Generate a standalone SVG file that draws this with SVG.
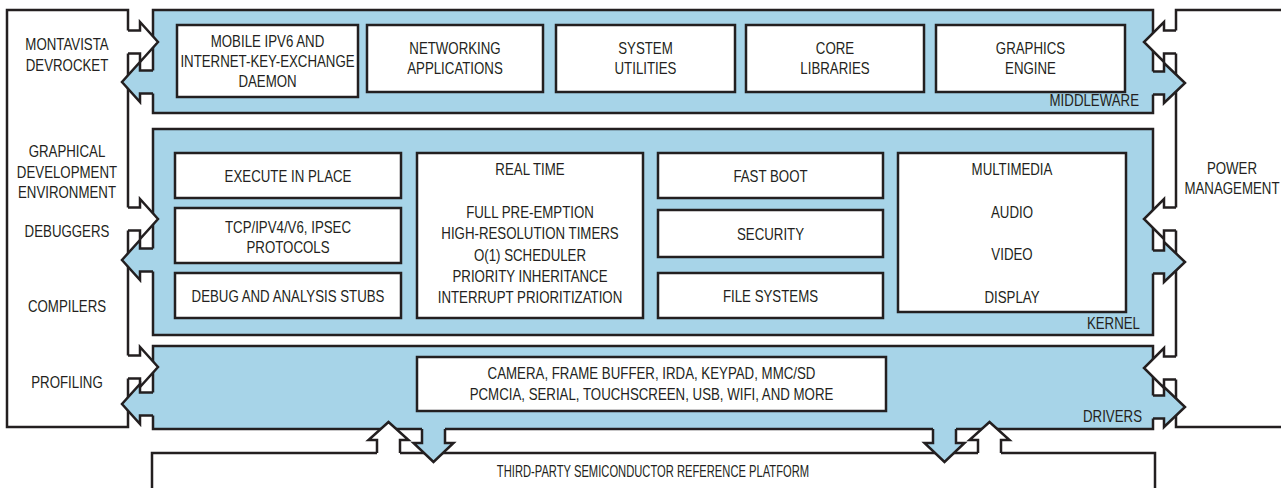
<svg xmlns="http://www.w3.org/2000/svg" width="1281" height="488" viewBox="0 0 1281 488">
  <style>
    .box { fill: #ffffff; stroke: #231f20; stroke-width: 2.5; }
    .panel { fill: #a7d4e8; stroke: #231f20; stroke-width: 2.5; }
    .fw { fill: #ffffff; stroke: none; }
    .fb { fill: #a7d4e8; stroke: none; }
    .ol { fill: none; stroke: #231f20; stroke-width: 2.5; stroke-linejoin: miter; }
    text { font-family: "Liberation Sans", Arial, sans-serif; font-size: 16px; fill: #231f20; text-anchor: middle; }
    text.end { text-anchor: end; }
  </style>

  <!-- side boxes: tools on the left, power management on the right -->
  <g id="tools">
    <rect class="box" x="7" y="10" width="121" height="417"/>
    <text transform="translate(67,50) scale(0.83,1)"><tspan x="0" y="0">MONTAVISTA</tspan><tspan x="0" dy="21">DEVROCKET</tspan></text>
    <text transform="translate(67,157) scale(0.83,1)"><tspan x="0" y="0">GRAPHICAL</tspan><tspan x="0" dy="20.7">DEVELOPMENT</tspan><tspan x="0" dy="20.7">ENVIRONMENT</tspan></text>
    <text transform="translate(67,237) scale(0.83,1)">DEBUGGERS</text>
    <text transform="translate(67,312) scale(0.83,1)">COMPILERS</text>
    <text transform="translate(67,388) scale(0.83,1)">PROFILING</text>
  </g>

  <g id="power">
    <rect class="box" x="1176" y="10" width="120" height="417"/>
    <text transform="translate(1232,174) scale(0.83,1)"><tspan x="0" y="0">POWER</tspan><tspan x="0" dy="20">MANAGEMENT</tspan></text>
  </g>

  <g id="platform">
    <rect class="box" x="152" y="453" width="1003" height="60"/>
    <text transform="translate(653,477) scale(0.7,1)">THIRD-PARTY SEMICONDUCTOR REFERENCE PLATFORM</text>
  </g>

  <!-- middleware layer -->
  <g id="middleware">
    <rect class="panel" x="153" y="10" width="1000" height="103"/>
    <text class="end" transform="translate(1139,106) scale(0.83,1)">MIDDLEWARE</text>
  </g>
  <g id="mw-mobile">
    <rect class="box" x="177" y="25" width="181" height="72"/>
    <text transform="translate(267.5,47) scale(0.83,1)"><tspan x="0" y="0">MOBILE IPV6 AND</tspan><tspan x="0" dy="20">INTERNET-KEY-EXCHANGE</tspan><tspan x="0" dy="20">DAEMON</tspan></text>
  </g>
  <g id="mw-networking">
    <rect class="box" x="367" y="25" width="176" height="67"/>
    <text transform="translate(455,53.5) scale(0.83,1)"><tspan x="0" y="0">NETWORKING</tspan><tspan x="0" dy="21">APPLICATIONS</tspan></text>
  </g>
  <g id="mw-system">
    <rect class="box" x="556" y="25" width="179" height="67"/>
    <text transform="translate(645.5,53.5) scale(0.83,1)"><tspan x="0" y="0">SYSTEM</tspan><tspan x="0" dy="21">UTILITIES</tspan></text>
  </g>
  <g id="mw-core">
    <rect class="box" x="746" y="25" width="178" height="67"/>
    <text transform="translate(835,53.5) scale(0.83,1)"><tspan x="0" y="0">CORE</tspan><tspan x="0" dy="21">LIBRARIES</tspan></text>
  </g>
  <g id="mw-graphics">
    <rect class="box" x="936" y="25" width="189" height="67"/>
    <text transform="translate(1030.5,53.5) scale(0.83,1)"><tspan x="0" y="0">GRAPHICS</tspan><tspan x="0" dy="21">ENGINE</tspan></text>
  </g>

  <!-- kernel layer -->
  <g id="kernel">
    <rect class="panel" x="153" y="129" width="1000" height="206"/>
    <text class="end" transform="translate(1140,329) scale(0.83,1)">KERNEL</text>
  </g>
  <g id="k-xip">
    <rect class="box" x="175" y="153" width="226" height="45"/>
    <text transform="translate(288,182) scale(0.83,1)">EXECUTE IN PLACE</text>
  </g>
  <g id="k-tcpip">
    <rect class="box" x="175" y="208" width="226" height="55"/>
    <text transform="translate(288,232.5) scale(0.83,1)"><tspan x="0" y="0">TCP/IPV4/V6, IPSEC</tspan><tspan x="0" dy="21">PROTOCOLS</tspan></text>
  </g>
  <g id="k-debug">
    <rect class="box" x="175" y="273" width="226" height="45"/>
    <text transform="translate(288,302) scale(0.83,1)">DEBUG AND ANALYSIS STUBS</text>
  </g>
  <g id="k-realtime">
    <rect class="box" x="417" y="153" width="226" height="165"/>
    <text transform="translate(530,175) scale(0.83,1)">REAL TIME</text>
    <text transform="translate(530,218) scale(0.83,1)"><tspan x="0" y="0">FULL PRE-EMPTION</tspan><tspan x="0" dy="21.3">HIGH-RESOLUTION TIMERS</tspan><tspan x="0" dy="21.3">O(1) SCHEDULER</tspan><tspan x="0" dy="21.3">PRIORITY INHERITANCE</tspan><tspan x="0" dy="21.3">INTERRUPT PRIORITIZATION</tspan></text>
  </g>
  <g id="k-fastboot">
    <rect class="box" x="658" y="153" width="225" height="45"/>
    <text transform="translate(770.5,182) scale(0.83,1)">FAST BOOT</text>
  </g>
  <g id="k-security">
    <rect class="box" x="658" y="210" width="225" height="47"/>
    <text transform="translate(770.5,239.5) scale(0.83,1)">SECURITY</text>
  </g>
  <g id="k-filesystems">
    <rect class="box" x="658" y="273" width="225" height="45"/>
    <text transform="translate(770.5,302) scale(0.83,1)">FILE SYSTEMS</text>
  </g>
  <g id="k-multimedia">
    <rect class="box" x="898" y="153" width="228" height="159"/>
    <text transform="translate(1012,175) scale(0.83,1)"><tspan x="0" y="0">MULTIMEDIA</tspan><tspan x="0" dy="42.7">AUDIO</tspan><tspan x="0" dy="42.7">VIDEO</tspan><tspan x="0" dy="42.7">DISPLAY</tspan></text>
  </g>

  <!-- drivers layer -->
  <g id="drivers">
    <rect class="panel" x="153" y="346" width="1000" height="83"/>
    <text class="end" transform="translate(1142,422) scale(0.83,1)">DRIVERS</text>
  </g>
  <g id="d-list">
    <rect class="box" x="417" y="357" width="469" height="54"/>
    <text transform="translate(651.5,379) scale(0.83,1)"><tspan x="0" y="0">CAMERA, FRAME BUFFER, IRDA, KEYPAD, MMC/SD</tspan><tspan x="0" dy="21">PCMCIA, SERIAL, TOUCHSCREEN, USB, WIFI, AND MORE</tspan></text>
  </g>

  <!-- block arrows: fill first (hides the box edges it crosses), outline on top -->
  <g id="connectors">
    <!-- tools <-> middleware -->
    <g id="c-tools-mw">
      <polygon class="fw" points="126,30.5 140,30.5 140,22 158,42 140,62 140,53.5 126,53.5"/>
      <polyline class="ol" points="128,30.5 140,30.5 140,22 158,42 140,62 140,53.5 128,53.5"/>
      <polygon class="fb" points="156,70.5 140,70.5 140,62 122,82 140,102 140,93.5 156,93.5"/>
      <polyline class="ol" points="153,70.5 140,70.5 140,62 122,82 140,102 140,93.5 153,93.5"/>
    </g>
    <!-- tools <-> kernel -->
    <g id="c-tools-kernel">
      <polygon class="fw" points="126,207.5 140,207.5 140,199 158,219 140,239 140,230.5 126,230.5"/>
      <polyline class="ol" points="128,207.5 140,207.5 140,199 158,219 140,239 140,230.5 128,230.5"/>
      <polygon class="fb" points="156,248.5 140,248.5 140,240 122,260 140,280 140,271.5 156,271.5"/>
      <polyline class="ol" points="153,248.5 140,248.5 140,240 122,260 140,280 140,271.5 153,271.5"/>
    </g>
    <!-- tools <-> drivers -->
    <g id="c-tools-drivers">
      <polygon class="fw" points="126,355.5 140,355.5 140,347 158,367 140,387 140,378.5 126,378.5"/>
      <polyline class="ol" points="128,355.5 140,355.5 140,347 158,367 140,387 140,378.5 128,378.5"/>
      <polygon class="fb" points="156,392.5 140,392.5 140,384 122,404 140,424 140,415.5 156,415.5"/>
      <polyline class="ol" points="153,392.5 140,392.5 140,384 122,404 140,424 140,415.5 153,415.5"/>
    </g>

    <!-- power management <-> middleware -->
    <g id="c-power-mw">
      <polygon class="fw" points="1178,30.5 1164,30.5 1164,22 1144,42 1164,62 1164,53.5 1178,53.5"/>
      <polyline class="ol" points="1176,30.5 1164,30.5 1164,22 1144,42 1164,62 1164,53.5 1176,53.5"/>
      <polygon class="fb" points="1150,71.5 1164,71.5 1164,63 1185,83 1164,103 1164,94.5 1150,94.5"/>
      <polyline class="ol" points="1153,71.5 1164,71.5 1164,63 1185,83 1164,103 1164,94.5 1153,94.5"/>
    </g>
    <!-- power management <-> kernel -->
    <g id="c-power-kernel">
      <polygon class="fw" points="1178,207.5 1164,207.5 1164,199 1144,219 1164,239 1164,230.5 1178,230.5"/>
      <polyline class="ol" points="1176,207.5 1164,207.5 1164,199 1144,219 1164,239 1164,230.5 1176,230.5"/>
      <polygon class="fb" points="1150,250.5 1164,250.5 1164,242 1185,262 1164,282 1164,273.5 1150,273.5"/>
      <polyline class="ol" points="1153,250.5 1164,250.5 1164,242 1185,262 1164,282 1164,273.5 1153,273.5"/>
    </g>
    <!-- power management <-> drivers -->
    <g id="c-power-drivers">
      <polygon class="fw" points="1178,356.5 1164,356.5 1164,348 1144,368 1164,388 1164,379.5 1178,379.5"/>
      <polyline class="ol" points="1176,356.5 1164,356.5 1164,348 1144,368 1164,388 1164,379.5 1176,379.5"/>
      <polygon class="fb" points="1150,395.5 1164,395.5 1164,387 1185,407 1164,427 1164,418.5 1150,418.5"/>
      <polyline class="ol" points="1153,395.5 1164,395.5 1164,387 1185,407 1164,427 1164,418.5 1153,418.5"/>
    </g>

    <!-- platform <-> drivers, left pair -->
    <g id="c-platform-drivers-1">
      <polygon class="fw" points="377,456 377,440 368.5,440 388.5,422 408.5,440 400,440 400,456"/>
      <polyline class="ol" points="377,453 377,440 368.5,440 388.5,422 408.5,440 400,440 400,453"/>
      <polygon class="fb" points="422,426 422,443 413.5,443 433.5,462 453.5,443 445,443 445,426"/>
      <polyline class="ol" points="422,429 422,443 413.5,443 433.5,462 453.5,443 445,443 445,429"/>
    </g>
    <!-- platform <-> drivers, right pair -->
    <g id="c-platform-drivers-2">
      <polygon class="fb" points="933,426 933,443 924.5,443 944.5,462 964.5,443 956,443 956,426"/>
      <polyline class="ol" points="933,429 933,443 924.5,443 944.5,462 964.5,443 956,443 956,429"/>
      <polygon class="fw" points="978,456 978,440 969.5,440 989.5,422 1009.5,440 1001,440 1001,456"/>
      <polyline class="ol" points="978,453 978,440 969.5,440 989.5,422 1009.5,440 1001,440 1001,453"/>
    </g>
  </g>
</svg>
